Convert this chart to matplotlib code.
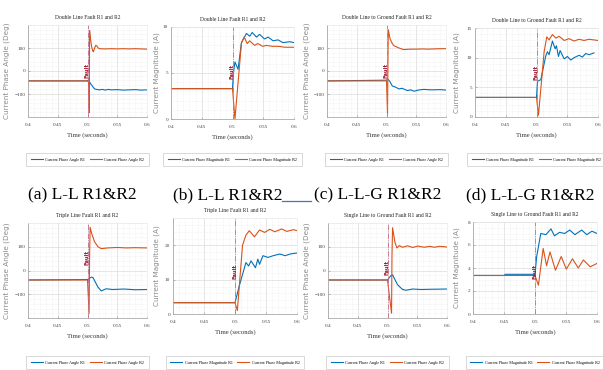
import matplotlib
matplotlib.use('Agg')
import matplotlib.pyplot as plt
from matplotlib.lines import Line2D
from matplotlib.ticker import MultipleLocator, FixedLocator, FixedFormatter

W, H = 603, 370

# x axis
x_ticks = [0.4, 0.45, 0.5, 0.55, 0.6]
x_tick_labels = ['0.4', '0.45', '0.5', '0.55', '0.6']

titles = ['Double Line Fault R1 and R2', 'Double Line Fault R1 and R2',
          'Double Line to Ground Fault R1 and R2', 'Double Line to Ground Fault R1 and R2',
          'Triple Line Fault R1 and R2', 'Triple Line Fault R1 and R2',
          'Single Line to Ground Fault R1 and R2', 'Single Line to Ground Fault R1 and R2']
captions = ['(a) L-L R1&R2', '(b) L-L R1&R2', '(c) L-L-G R1&R2', '(d) L-L-G R1&R2']
angle_ylabel = 'Current Phase Angle (Deg)'
mag_ylabel = 'Current Magnitude (A)'
angle_legend = ['Current Phase Angle R1', 'Current Phase Angle R2']
mag_legend = ['Current Phase Magnitude R1', 'Current Phase Magnitude R2']

# ---- (1) double line, phase angle
t1_r1 = [0.4, 0.5, 0.502, 0.504, 0.506, 0.508, 0.51, 0.512, 0.515, 0.52, 0.525, 0.53,
         0.535, 0.54, 0.55, 0.56, 0.57, 0.58, 0.59, 0.6]
v1_r1 = [-43, -43, -38, -50, -58, -65, -72, -78, -80, -82, -80, -83,
         -80, -82, -81, -83, -82, -81, -83, -82]
t1_r2 = [0.4, 0.5, 0.502, 0.503, 0.5035, 0.505, 0.507, 0.509, 0.51, 0.512, 0.514, 0.516,
         0.518, 0.52, 0.53, 0.54, 0.55, 0.56, 0.57, 0.58, 0.59, 0.6]
v1_r2 = [-43, -43, -50, -180, 176, 140, 105, 86, 84, 100, 112, 108,
         100, 97, 96, 97, 96, 97, 96, 97, 96, 95]

# ---- (2) double line, magnitude
t2_r1 = [0.4, 0.5, 0.5015, 0.504, 0.509, 0.5146, 0.5227, 0.528, 0.532, 0.539, 0.544,
         0.552, 0.558, 0.566, 0.574, 0.582, 0.593, 0.6]
v2_r1 = [3.3, 3.3, 5.0, 6.2, 5.4, 8.3, 9.3, 9.0, 9.4, 8.9, 9.2,
         8.7, 8.9, 8.5, 8.6, 8.3, 8.4, 8.3]
t2_r2 = [0.4, 0.5, 0.504, 0.5146, 0.519, 0.524, 0.528, 0.536, 0.541, 0.549, 0.555,
         0.565, 0.575, 0.585, 0.6]
v2_r2 = [3.3, 3.3, 0.0, 8.3, 8.9, 8.2, 8.5, 8.0, 8.2, 7.9, 8.0,
         7.9, 7.9, 7.8, 7.8]

# ---- (3) double line to ground, phase angle
t3_r1 = [0.4, 0.5, 0.502, 0.5056, 0.5096, 0.515, 0.521, 0.526, 0.535, 0.541, 0.546,
         0.555, 0.563, 0.575, 0.59, 0.6]
v3_r1 = [-43, -40, -35, -45, -65, -70, -78, -75, -85, -82, -88,
         -82, -80, -82, -81, -83]
t3_r2 = [0.4, 0.5, 0.5017, 0.5025, 0.503, 0.506, 0.5096, 0.5124, 0.521, 0.529, 0.54,
         0.55, 0.56, 0.57, 0.58, 0.59, 0.6]
v3_r2 = [-43, -43, -185, 60, 180, 140, 120, 110, 100, 93, 95,
         95, 96, 95, 96, 97, 97]

# ---- (4) double line to ground, magnitude
t4_r1 = [0.4, 0.5, 0.5016, 0.507, 0.5151, 0.5178, 0.5205, 0.5259, 0.5303, 0.5324, 0.5357,
         0.5384, 0.545, 0.5503, 0.5557, 0.5611, 0.5692, 0.5746, 0.58, 0.5854, 0.5935]
v4_r1 = [3.3, 3.3, 6.0, 6.3, 10.3, 11.0, 10.5, 12.8, 11.5, 12.0, 10.2,
         11.2, 9.8, 10.2, 9.6, 10.0, 10.4, 10.1, 10.7, 10.5, 10.8]
t4_r2 = [0.4, 0.5, 0.5032, 0.5124, 0.5167, 0.5205, 0.5259, 0.5314, 0.5368, 0.545, 0.553,
         0.5611, 0.5692, 0.5773, 0.5854, 0.6]
v4_r2 = [3.3, 3.3, 0.3, 11.0, 13.5, 13.0, 13.9, 13.3, 13.6, 12.9, 13.2,
         12.8, 13.1, 12.9, 13.1, 12.9]

# ---- (5) triple line, phase angle
t5_r1 = [0.4, 0.5, 0.5066, 0.5093, 0.5176, 0.5231, 0.5313, 0.5423, 0.5615, 0.58, 0.6]
v5_r1 = [-40, -38, -28, -30, -70, -86, -77, -80, -78, -81, -80]
t5_r2 = [0.4, 0.5, 0.5027, 0.5035, 0.5044, 0.5077, 0.5121, 0.5176, 0.5231, 0.5341, 0.5505,
         0.565, 0.58, 0.6]
v5_r2 = [-40, -40, -180, 60, 182, 150, 120, 100, 92, 95, 97,
         95, 96, 95]

# ---- (6) triple line, magnitude
t6_r1 = [0.4, 0.5, 0.5066, 0.5176, 0.522, 0.5258, 0.533, 0.5368, 0.5396, 0.5451, 0.5533,
         0.5615, 0.5725, 0.5808, 0.589, 0.6]
v6_r1 = [3.3, 3.3, 8.0, 15.0, 14.0, 15.5, 13.5, 16.0, 14.5, 17.0, 16.5,
         17.0, 17.5, 17.0, 17.5, 17.8]
t6_r2 = [0.4, 0.5, 0.5038, 0.5121, 0.5176, 0.5231, 0.5313, 0.5396, 0.5478, 0.556, 0.5643,
         0.5753, 0.5835, 0.5945, 0.6]
v6_r2 = [3.3, 3.3, 1.0, 20.0, 23.0, 24.3, 22.5, 24.5, 23.8, 24.7, 24.0,
         24.8, 24.1, 24.6, 24.3]

# ---- (7) single line to ground, phase angle
t7_r1 = [0.4, 0.5, 0.5056, 0.5085, 0.5169, 0.5254, 0.531, 0.5424, 0.5565, 0.5734, 0.6]
v7_r1 = [-40, -40, -22, -18, -60, -80, -83, -78, -80, -79, -78]
t7_r2 = [0.4, 0.5, 0.5068, 0.5075, 0.5085, 0.5124, 0.5158, 0.5198, 0.5254, 0.5339, 0.5424,
         0.5508, 0.562, 0.5706, 0.579, 0.5876, 0.6]
v7_r2 = [-40, -40, -180, 60, 180, 120, 95, 105, 98, 104, 97,
         103, 98, 102, 98, 102, 99]

# ---- (8) single line to ground, magnitude
t8_r1 = [0.4, 0.45, 0.452, 0.5, 0.5027, 0.5093, 0.5176, 0.5258, 0.5313, 0.5396, 0.5478,
         0.556, 0.5643, 0.5753, 0.5835, 0.5918, 0.6]
v8_r1 = [3.35, 3.35, 3.45, 3.45, 5.0, 7.0, 6.9, 7.4, 6.8, 7.1, 7.0,
         7.3, 6.9, 7.3, 6.9, 7.2, 7.0]
t8_r2 = [0.4, 0.5, 0.5055, 0.5132, 0.5187, 0.5242, 0.533, 0.5423, 0.5505, 0.5604, 0.5698,
         0.5780, 0.589, 0.6]
v8_r2 = [3.35, 3.35, 2.5, 5.7, 4.2, 5.4, 3.8, 5.0, 3.9, 4.8, 4.0,
         4.7, 4.1, 4.4]

series = [(t1_r1, v1_r1, t1_r2, v1_r2), (t2_r1, v2_r1, t2_r2, v2_r2),
          (t3_r1, v3_r1, t3_r2, v3_r2), (t4_r1, v4_r1, t4_r2, v4_r2),
          (t5_r1, v5_r1, t5_r2, v5_r2), (t6_r1, v6_r1, t6_r2, v6_r2),
          (t7_r1, v7_r1, t7_r2, v7_r2), (t8_r1, v8_r1, t8_r2, v8_r2)]

is_angle = [True, False, True, False, True, False, True, False]
y_limits = [(-200, 200), (0, 10), (-200, 200), (0, 15),
            (-200, 200), (0, 28), (-200, 200), (0, 8)]
y_ticks = [[-100, 0, 100], [0, 5, 10], [-100, 0, 100], [0, 5, 10, 15],
           [-100, 0, 100], [0, 10, 20], [-100, 0, 100], [0, 2, 4, 6, 8]]
y_minor = [20, 1, 20, 1, 20, 2, 20, 0.5]
fault_text_y = [0, 5.2, 0, 7.5, 54, 12.5, 11, 3.7]

# axes boxes in pixels: left, top, right, bottom
boxes = [(28, 25, 147, 117), (171, 27, 294, 119), (327, 25, 446, 117), (475, 28, 598, 117),
         (28, 223, 147, 318), (173, 218, 297, 314), (328, 223, 447, 318), (473, 222, 597, 314)]
# x pixel where each y label sits
ylabel_x = [10, 160, 310, 460, 10, 160, 310, 460]

BLUE = '#0072BD'
ORANGE = '#D95319'
SERIF = 'Liberation Serif'

fig = plt.figure(figsize=(W / 100, H / 100), dpi=100)
fig.patch.set_facecolor('white')

for i in range(8):
    l, t, r, b = boxes[i]
    ax = fig.add_axes([l / W, 1 - b / H, (r - l) / W, (b - t) / H])
    tr1, vr1, tr2, vr2 = series[i]
    labels = angle_legend if is_angle[i] else mag_legend
    ax.plot(tr1, vr1, color=BLUE, lw=0.8, label=labels[0])
    ax.plot(tr2, vr2, color=ORANGE, lw=0.8, label=labels[1])

    ax.set_xlim(0.4, 0.6)
    ax.set_ylim(*y_limits[i])
    ax.xaxis.set_major_locator(FixedLocator(x_ticks))
    ax.xaxis.set_major_formatter(FixedFormatter(x_tick_labels))
    ax.xaxis.set_minor_locator(MultipleLocator(0.01))
    ax.yaxis.set_major_locator(FixedLocator(y_ticks[i]))
    ax.yaxis.set_minor_locator(MultipleLocator(y_minor[i]))
    ax.grid(which='major', color='#dcdcdc', lw=0.5)
    ax.grid(which='minor', color='#e4e4e4', lw=0.4, ls=':')
    ax.set_axisbelow(True)
    ax.tick_params(which='both', direction='in', length=1.5, width=0.4, colors='#888888',
                   labelsize=3.8, labelcolor='#444444')
    ax.tick_params(axis='x', pad=4)
    ax.tick_params(axis='y', pad=2)
    ax.tick_params(which='minor', length=0)
    for lab in ax.get_xticklabels() + ax.get_yticklabels():
        lab.set_fontfamily(SERIF)
    for side in ['left', 'bottom']:
        ax.spines[side].set_color('#aaaaaa')
        ax.spines[side].set_linewidth(0.6)
    for side in ['top', 'right']:
        ax.spines[side].set_color('#e6e6e6')
        ax.spines[side].set_linewidth(0.4)

    # fault marker
    ax.axvline(0.5, color='#c86a8a', lw=0.6, ls='-.')
    ax.text(0.4995, fault_text_y[i], 'Fault', rotation=90, color='#a01830',
            fontsize=3.8, family='DejaVu Sans', fontweight='bold',
            ha='center', va='center')

    ax.set_title(titles[i], fontsize=4.0, family=SERIF, pad=4, color='#222222')
    ax.set_xlabel('Time (seconds)', fontsize=4.8, family=SERIF, labelpad=4, color='#333333')
    ax.set_ylabel(angle_ylabel if is_angle[i] else mag_ylabel, fontsize=5.2,
                  family='DejaVu Sans', color='#8a8a8a')
    ax.yaxis.set_label_coords(-(l - ylabel_x[i]) / (r - l), 0.5)

    leg_top = 153 if i < 4 else 356
    leg = ax.legend(loc='upper center', bbox_to_anchor=(0.5, -(leg_top - b) / (b - t)),
                    ncol=2, frameon=True, fancybox=False,
                    handlelength=2.8, handletextpad=0.6, columnspacing=1.2, borderpad=1.1,
                    borderaxespad=0, prop={'family': SERIF, 'size': 3.0})
    leg.get_frame().set_edgecolor('#bbbbbb')
    leg.get_frame().set_linewidth(0.5)

# sub-figure captions
cap_x = [82, 228, 378, 530]
for cx, cap in zip(cap_x, captions):
    fig.text(cx / W, 1 - 195 / H, cap, fontsize=12.5, family=SERIF,
             ha='center', va='center', color='black')

# stray blue underline from the source document
fig.add_artist(Line2D([282 / W, 311 / W], [1 - 201 / H, 1 - 201 / H],
                      color='#4472c4', lw=0.9))

fig.savefig('out.png', dpi=100)
